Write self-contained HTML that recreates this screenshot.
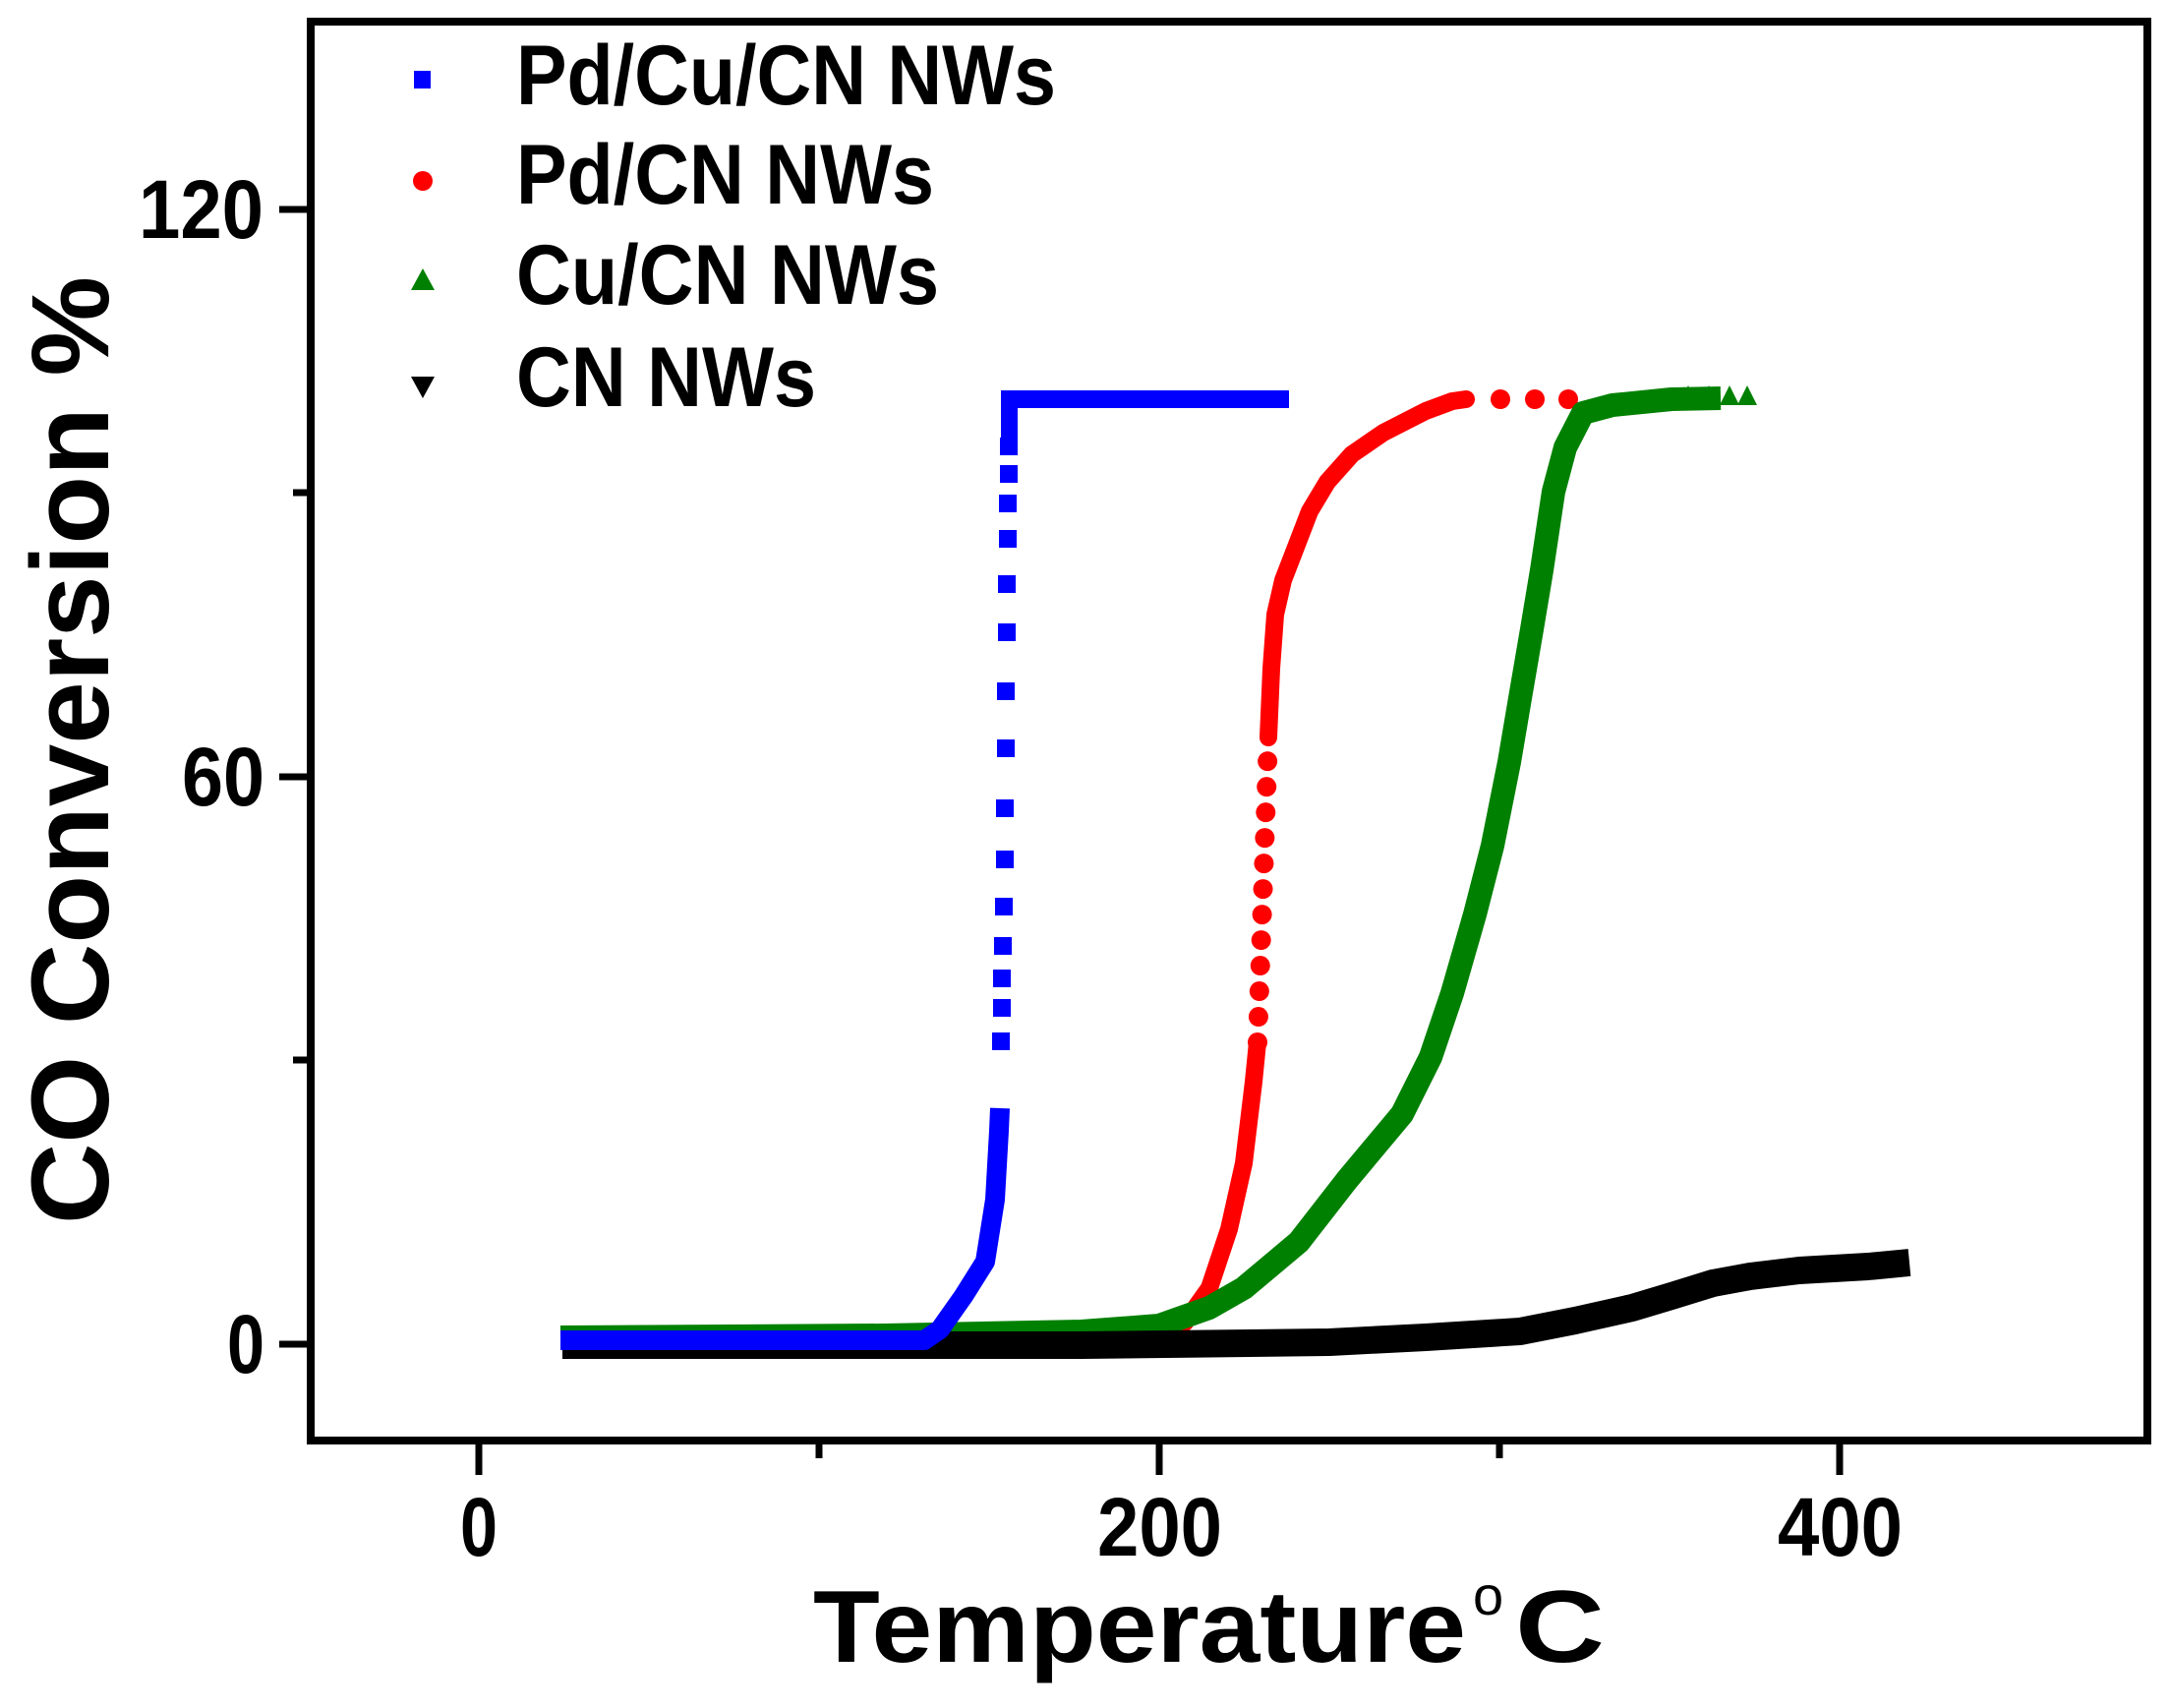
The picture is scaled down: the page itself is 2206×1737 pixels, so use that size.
<!DOCTYPE html>
<html><head><meta charset="utf-8"><style>
html,body{margin:0;padding:0;background:#fff;}
svg{display:block;}
text{font-family:"Liberation Sans",Arial,sans-serif;font-weight:bold;fill:#000;}
</style></head><body>
<svg width="2206" height="1737" viewBox="0 0 2206 1737" xmlns="http://www.w3.org/2000/svg">
<rect x="316" y="22" width="1868" height="1443" fill="none" stroke="#000" stroke-width="8"/>
<g stroke="#000" stroke-width="7">
<line x1="487" y1="1465" x2="487" y2="1500"/>
<line x1="833" y1="1465" x2="833" y2="1483"/>
<line x1="1179" y1="1465" x2="1179" y2="1500"/>
<line x1="1525" y1="1465" x2="1525" y2="1483"/>
<line x1="1871" y1="1465" x2="1871" y2="1500"/>
<line x1="284" y1="1367" x2="316" y2="1367"/>
<line x1="298" y1="1078" x2="316" y2="1078"/>
<line x1="284" y1="790" x2="316" y2="790"/>
<line x1="298" y1="501" x2="316" y2="501"/>
<line x1="284" y1="213" x2="316" y2="213"/>
</g>
<g font-size="84">
<text x="231" y="1396" textLength="38" lengthAdjust="spacingAndGlyphs">0</text>
<text x="185" y="819" textLength="84" lengthAdjust="spacingAndGlyphs">60</text>
<text x="141" y="242" textLength="127" lengthAdjust="spacingAndGlyphs">120</text>
<text x="468" y="1582" textLength="38" lengthAdjust="spacingAndGlyphs">0</text>
<text x="1116" y="1582" textLength="127" lengthAdjust="spacingAndGlyphs">200</text>
<text x="1808" y="1582" textLength="127" lengthAdjust="spacingAndGlyphs">400</text>
</g>
<text x="827" y="1690" font-size="104" textLength="664" lengthAdjust="spacingAndGlyphs">Temperature</text>
<text x="1498" y="1642" font-size="56" font-weight="normal" style="font-weight:normal">o</text>
<text x="1541" y="1690" font-size="104" textLength="91" lengthAdjust="spacingAndGlyphs">C</text>
<text transform="translate(110,1245) rotate(-90)" font-size="112" textLength="964" lengthAdjust="spacingAndGlyphs">CO Conversion %</text>
<rect x="421" y="72" width="17" height="18" fill="#0000ff"/>
<circle cx="430" cy="184" r="10" fill="#ff0000"/>
<polygon points="430,273 418,295 442,295" fill="#008000"/>
<polygon points="418,383 442,383 430,405" fill="#000"/>
<g font-size="86">
<text x="525" y="106" textLength="549" lengthAdjust="spacingAndGlyphs">Pd/Cu/CN NWs</text>
<text x="525" y="207" textLength="425" lengthAdjust="spacingAndGlyphs">Pd/CN NWs</text>
<text x="525" y="309" textLength="430" lengthAdjust="spacingAndGlyphs">Cu/CN NWs</text>
<text x="525" y="413" textLength="305" lengthAdjust="spacingAndGlyphs">CN NWs</text>
</g>
<!-- red -->
<polyline fill="none" stroke="#ff0000" stroke-width="18" stroke-linejoin="round" stroke-linecap="round"
 points="700,1372 1179,1368 1205,1345 1230,1310 1250,1250 1265,1183 1275,1100 1279,1060"/>
<line x1="1279" y1="1060" x2="1290" y2="750" stroke="#ff0000" stroke-width="20" stroke-linecap="round" stroke-dasharray="0 26"/>
<polyline fill="none" stroke="#ff0000" stroke-width="18" stroke-linejoin="round" stroke-linecap="round"
 points="1290,750 1293,680 1297,625 1305,590 1317,559 1332,520 1350,490 1375,462 1407,440 1450,418 1477,408 1491,406"/>
<g fill="#ff0000"><circle cx="1526" cy="406" r="10"/><circle cx="1561" cy="406" r="10"/><circle cx="1595" cy="406" r="10"/></g>
<!-- green -->
<polyline fill="none" stroke="#008000" stroke-width="24" stroke-linejoin="round"
 points="570,1360 900,1358 1100,1354 1179,1348 1230,1330 1265,1310 1321,1263 1370,1200 1426,1133 1455,1075 1477,1010 1500,930 1518,860 1535,775 1546,710 1558,640 1568,580 1580,500 1592,455 1610,420 1640,412 1700,406 1750,405"/>
<g fill="#008000">
<polygon points="1717,392 1707,412 1727,412"/><polygon points="1738,392 1728,412 1748,412"/>
<polygon points="1759,392 1749,412 1769,412"/><polygon points="1777,392 1767,412 1787,412"/>
</g>
<!-- black -->
<polyline fill="none" stroke="#000" stroke-width="28" stroke-linejoin="round"
 points="572,1368 1100,1368 1352,1365 1450,1360 1546,1354 1602,1343 1660,1330 1700,1318 1742,1305 1780,1298 1830,1292 1900,1288 1942,1284"/>
<!-- blue -->
<polyline fill="none" stroke="#0000ff" stroke-width="20" stroke-linejoin="round"
 points="570,1363 940,1363 956,1352 980,1318 1002,1283 1012,1220 1016,1150 1017,1127"/>
<g fill="#0000ff">
<rect x="1009" y="1050" width="18" height="18"/><rect x="1010" y="1016" width="18" height="18"/>
<rect x="1010" y="986" width="18" height="18"/><rect x="1011" y="953" width="18" height="18"/>
<rect x="1012" y="913" width="18" height="18"/><rect x="1013" y="865" width="18" height="18"/>
<rect x="1013" y="813" width="18" height="18"/><rect x="1014" y="752" width="18" height="18"/>
<rect x="1014" y="694" width="18" height="18"/><rect x="1015" y="634" width="18" height="18"/>
<rect x="1015" y="585" width="18" height="18"/><rect x="1016" y="539" width="18" height="18"/>
<rect x="1016" y="503" width="18" height="18"/><rect x="1017" y="473" width="18" height="18"/>
<rect x="1017" y="445" width="18" height="18"/>
<rect x="1018" y="397" width="17" height="48"/>
<rect x="1018" y="397" width="293" height="18"/>
</g>
</svg>
</body></html>
